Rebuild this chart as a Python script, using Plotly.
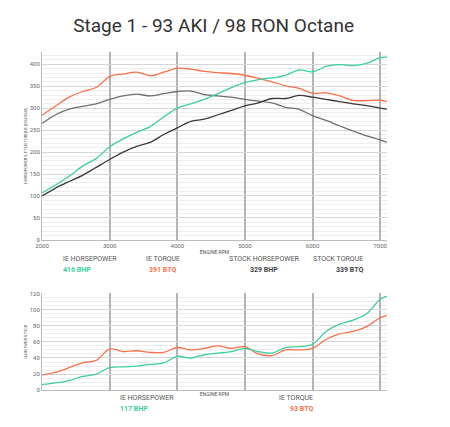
import plotly.graph_objects as go

rpm = [2000, 2200, 2400, 2600, 2800, 3000, 3200, 3400, 3600, 3800, 4000, 4200, 4400,
       4600, 4800, 5000, 5200, 5400, 5600, 5800, 6000, 6200, 6400, 6600, 6800, 7000, 7100]

ie_hp = [107, 125, 145, 168, 185, 212, 230, 245, 258, 280, 300, 310, 320, 333,
         347, 358, 365, 369, 375, 387, 383, 395, 399, 397, 402, 415, 416]
ie_tq = [284, 305, 325, 338, 347, 372, 378, 382, 374, 382, 391, 389, 384, 381,
         379, 375, 368, 360, 351, 345, 334, 335, 328, 318, 317, 318, 315]
stock_hp = [100, 118, 133, 147, 165, 183, 200, 213, 222, 240, 255, 270, 275, 285,
            295, 305, 312, 322, 322, 329, 325, 320, 315, 310, 306, 300, 298]
stock_tq = [265, 285, 298, 304, 310, 320, 328, 332, 328, 333, 338, 339, 331, 328,
            325, 320, 316, 312, 302, 297, 283, 272, 260, 248, 237, 228, 222]

gain_hp = [7, 9, 12, 17, 20, 28, 29, 30, 32, 34, 42, 40, 44, 46,
           48, 52, 48, 46, 53, 54, 57, 73, 82, 87, 95, 113, 117]
gain_tq = [19, 22, 28, 34, 37, 51, 48, 49, 47, 47, 53, 50, 52, 55,
           52, 54, 45, 43, 50, 50, 52, 63, 70, 73, 79, 90, 93]

GREEN = "#3ccf9e"
ORANGE = "#f8714c"
FONT = "Roboto"

fig = go.Figure()

# main dyno chart
for y, color in [(stock_tq, "#6e6e6e"), (stock_hp, "#3a3a3a"), (ie_tq, ORANGE), (ie_hp, GREEN)]:
    fig.add_trace(go.Scatter(x=rpm, y=y, mode="lines", line=dict(color=color, width=1.3, shape="spline"),
                             xaxis="x", yaxis="y", showlegend=False))

# gain chart
for y, color in [(gain_tq, ORANGE), (gain_hp, GREEN)]:
    fig.add_trace(go.Scatter(x=rpm, y=y, mode="lines", line=dict(color=color, width=1.3, shape="spline"),
                             xaxis="x2", yaxis="y2", showlegend=False))

xcommon = dict(range=[2000, 7100], dtick=1000, showgrid=True, gridcolor="#b4b4b4", gridwidth=1.5,
               ticks="", tickfont=dict(size=6, color="#666", family=FONT), zeroline=False,
               showline=True, linecolor="#bbb", domain=[0.0756, 0.842], automargin=False,
               title=dict(text="ENGINE RPM", font=dict(size=5, color="#555", family=FONT), standoff=2))
ycommon = dict(showgrid=True, gridcolor="#d6d6d6", gridwidth=1.2, zeroline=False, automargin=False,
               tickfont=dict(size=6, color="#666", family=FONT), ticks="",
               minor=dict(showgrid=True, gridcolor="#eeeeee"), showline=True, linecolor="#bbb")

fig.update_layout(
    width=450, height=427,
    paper_bgcolor="white", plot_bgcolor="white",
    margin=dict(l=0, r=0, t=0, b=0, autoexpand=False),
    title=dict(text="Stage 1 - 93 AKI / 98 RON Octane", x=0.457, y=0.975, xanchor="center",
               font=dict(size=19, color="#333", family=FONT)),
    xaxis=dict(**xcommon, anchor="y"),
    yaxis=dict(**ycommon, range=[0, 428], dtick=50, domain=[0.457, 0.897],
               title=dict(text="HORSEPOWER & FT-LB TORQUE [CHASSIS]", font=dict(size=4, color="#555", family=FONT), standoff=2)),
    xaxis2=dict(**xcommon, anchor="y2", showticklabels=False),
    yaxis2=dict(**ycommon, range=[0, 121], dtick=20, domain=[0.105, 0.333],
                title=dict(text="GAIN OVER STOCK", font=dict(size=4, color="#555", family=FONT), standoff=2)),
)

labels = [
    (0.118, 0.412, "IE HORSEPOWER", "416 BHP", GREEN),
    (0.344, 0.412, "IE TORQUE", "391 BTQ", ORANGE),
    (0.569, 0.412, "STOCK HORSEPOWER", "329 BHP", "#444"),
    (0.793, 0.412, "STOCK TORQUE", "339 BTQ", "#444"),
    (0.245, 0.072, "IE HORSEPOWER", "117 BHP", GREEN),
    (0.683, 0.072, "IE TORQUE", "93 BTQ", ORANGE),
]
for x, y, name, val, color in labels:
    fig.add_annotation(x=x, y=y, xref="paper", yref="paper", showarrow=False,
                       text=name, font=dict(size=7, color="#555", family=FONT))
    fig.add_annotation(x=x, y=y - 0.025, xref="paper", yref="paper", showarrow=False,
                       text=f"<b>{val}</b>", font=dict(size=7, color=color, family=FONT))

fig.write_html("out.html")
